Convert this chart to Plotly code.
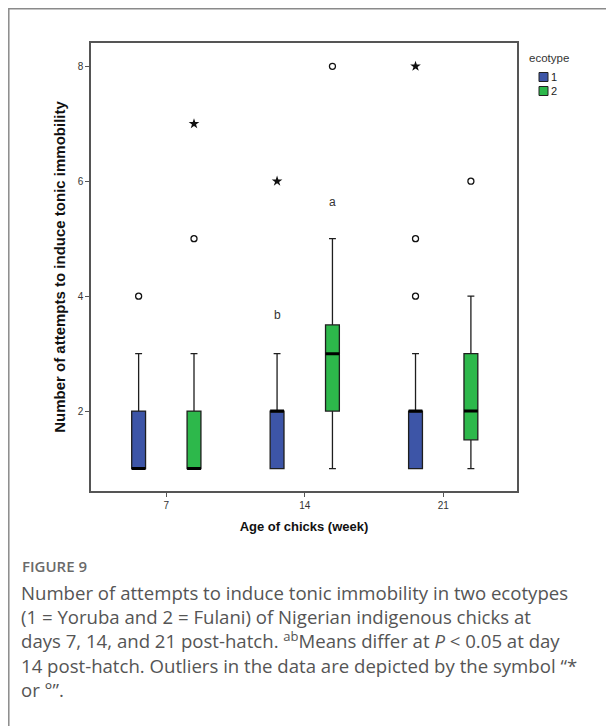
import plotly.graph_objects as go

# ---------------- data ----------------
ages = ["7", "14", "21"]
ecotypes = ["1", "2"]

# box statistics per ecotype (one value per age)
q1_eco1 = [1, 1, 1]
median_eco1 = [1, 2, 2]
q3_eco1 = [2, 2, 2]
lower_eco1 = [1, 1, 1]
upper_eco1 = [3, 3, 3]

q1_eco2 = [1, 2, 1.5]
median_eco2 = [1, 3, 2]
q3_eco2 = [2, 3.5, 3]
lower_eco2 = [1, 1, 1]
upper_eco2 = [3, 5, 4]

# outliers (circle = outlier, star = extreme)
circ_x_eco1 = ["7", "21", "21"]
circ_y_eco1 = [4, 5, 4]
star_x_eco1 = ["14", "21"]
star_y_eco1 = [6, 8]
circ_x_eco2 = ["7", "14", "21"]
circ_y_eco2 = [5, 8, 6]
star_x_eco2 = ["7"]
star_y_eco2 = [7]

sig_labels = ["b", "a"]
sig_values = [3.68, 5.63]

caption_title = "FIGURE 9"
caption_lines = [
    "Number of attempts to induce tonic immobility in two ecotypes",
    "(1 = Yoruba and 2 = Fulani) of Nigerian indigenous chicks at",
    "days 7, 14, and 21 post-hatch. <sup>ab</sup>Means differ at <i>P</i> &lt; 0.05 at day",
    "14 post-hatch. Outliers in the data are depicted by the symbol \u201c*",
    "or \u00b0\u201d.",
]

# ---------------- style ----------------
OFF = 8                     # page body margin
W, H = 614 - OFF, 726 - OFF
L, R, T, B = 91 - OFF, 517 - OFF, 43 - OFF, 491 - OFF
BOXGAP = 0.2
BOXGROUPGAP = 0.75
OFFSET = (1 - BOXGAP) / 4
COL1 = "#3d55a7"
COL2 = "#2db84b"
OUTLINE = "#1e1e1e"
SANS = "Liberation Sans, Arial, sans-serif"
CAPFONT = "Open Sans, Noto Sans, sans-serif"


def px(x):
    return (x - OFF - L) / (R - L)


def py(y):
    return (B - (y - OFF)) / (B - T)


fig = go.Figure()

stats = [
    ("1", COL1, q1_eco1, median_eco1, q3_eco1, lower_eco1, upper_eco1),
    ("2", COL2, q1_eco2, median_eco2, q3_eco2, lower_eco2, upper_eco2),
]
for name, col, q1, med, q3, lo, hi in stats:
    fig.add_trace(go.Box(
        x=ages, q1=q1, median=med, q3=q3, lowerfence=lo, upperfence=hi,
        name=name, offsetgroup=name, alignmentgroup="a",
        fillcolor=col, line=dict(color=OUTLINE, width=1.3),
        whiskerwidth=0.5, boxpoints=False, showlegend=False, hoverinfo="skip",
    ))

# thick median lines
for name, col, q1, med, q3, lo, hi in stats:
    fig.add_trace(go.Box(
        x=ages, q1=med, median=med, q3=med, lowerfence=med, upperfence=med,
        name=name, offsetgroup=name, alignmentgroup="a",
        fillcolor="rgba(0,0,0,0)", line=dict(color="#000000", width=3),
        whiskerwidth=0, boxpoints=False, showlegend=False, hoverinfo="skip",
    ))

# outliers
outl = [
    ("1", circ_x_eco1, circ_y_eco1, "circle-open", 6, 1.3),
    ("1", star_x_eco1, star_y_eco1, "star", 8, 0),
    ("2", circ_x_eco2, circ_y_eco2, "circle-open", 6, 1.3),
    ("2", star_x_eco2, star_y_eco2, "star", 8, 0),
]
for name, xs, ys, sym, sz, lw in outl:
    fig.add_trace(go.Box(
        x=xs, y=ys, name=name, offsetgroup=name, alignmentgroup="a",
        fillcolor="rgba(0,0,0,0)", line=dict(color="rgba(0,0,0,0)", width=0),
        whiskerwidth=0, boxpoints="all", jitter=0, pointpos=0,
        marker=dict(symbol=sym, size=sz, color="#111111",
                    line=dict(color="#111111", width=lw)),
        showlegend=False, hoverinfo="skip",
    ))

annotations = []
for i, (lab, val) in enumerate(zip(sig_labels, sig_values)):
    annotations.append(dict(
        x=1 - OFFSET if i == 0 else 1 + OFFSET, y=val, xref="x", yref="y",
        text=lab, showarrow=False, font=dict(family=SANS, size=12, color="#333333"),
    ))

# legend (manual, SPSS style)
annotations.append(dict(
    x=px(527), y=py(58), xref="paper", yref="paper", xanchor="left", yanchor="middle",
    text="ecotype", showarrow=False, font=dict(family=SANS, size=11.5, color="#333333"),
))
shapes = []
for k, (name, col) in enumerate(zip(ecotypes, [COL1, COL2])):
    yc = 77 + 14 * k
    shapes.append(dict(
        type="rect", xref="paper", yref="paper",
        x0=px(539), x1=px(548), y0=py(yc + 4.5), y1=py(yc - 4.5),
        fillcolor=col, line=dict(color="#222222", width=1),
    ))
    annotations.append(dict(
        x=px(549), y=py(yc), xref="paper", yref="paper", xanchor="left", yanchor="middle",
        text=name, showarrow=False, font=dict(family=SANS, size=11, color="#222222"),
    ))

annotations.append(dict(
    x=px(20), y=py(578), xref="paper", yref="paper", xanchor="left", yanchor="bottom",
    text=caption_title, showarrow=False,
    font=dict(family=CAPFONT, size=15, color="#6a6a6a", weight=600),
))
annotations.append(dict(
    x=px(19), y=py(578), xref="paper", yref="paper",
    xanchor="left", yanchor="top", align="left", text="<br>".join(caption_lines),
    showarrow=False, font=dict(family=CAPFONT, size=18.6, color="#555555"),
))

shapes.append(dict(
    type="rect", xref="paper", yref="paper",
    x0=px(8.8), y0=py(760), x1=px(640), y1=py(8.8),
    line=dict(color="#8a8a8a", width=1.5), fillcolor="rgba(0,0,0,0)", layer="below",
))

fig.update_layout(
    width=W, height=H,
    margin=dict(l=L, r=W - R, t=T, b=H - B, autoexpand=False),
    paper_bgcolor="white", plot_bgcolor="white",
    boxmode="group", boxgap=BOXGAP, boxgroupgap=BOXGROUPGAP,
    showlegend=False,
    annotations=annotations,
    shapes=shapes,
    xaxis=dict(
        type="category", categoryorder="array", categoryarray=ages,
        range=[-0.544, 2.533], showgrid=False, zeroline=False,
        showline=True, mirror=True, linecolor="#555555", linewidth=1.5,
        ticks="outside", ticklen=4, tickcolor="#555555", tickwidth=1,
        tickfont=dict(family=SANS, size=10, color="#333333"),
        title=dict(text="<b>Age of chicks (week)</b>", standoff=12,
                   font=dict(family=SANS, size=13, color="#111111")),
    ),
    yaxis=dict(
        range=[0.61, 8.405], tickvals=[2, 4, 6, 8], showgrid=False, zeroline=False,
        showline=True, mirror=True, linecolor="#555555", linewidth=1.5,
        ticks="outside", ticklen=4, tickcolor="#555555", tickwidth=1,
        tickfont=dict(family=SANS, size=10, color="#333333"),
        title=dict(text="<b>Number of attempts to induce tonic immobility</b>", standoff=8,
                   font=dict(family=SANS, size=15, color="#111111")),
    ),
)

fig.write_html("out.html")
